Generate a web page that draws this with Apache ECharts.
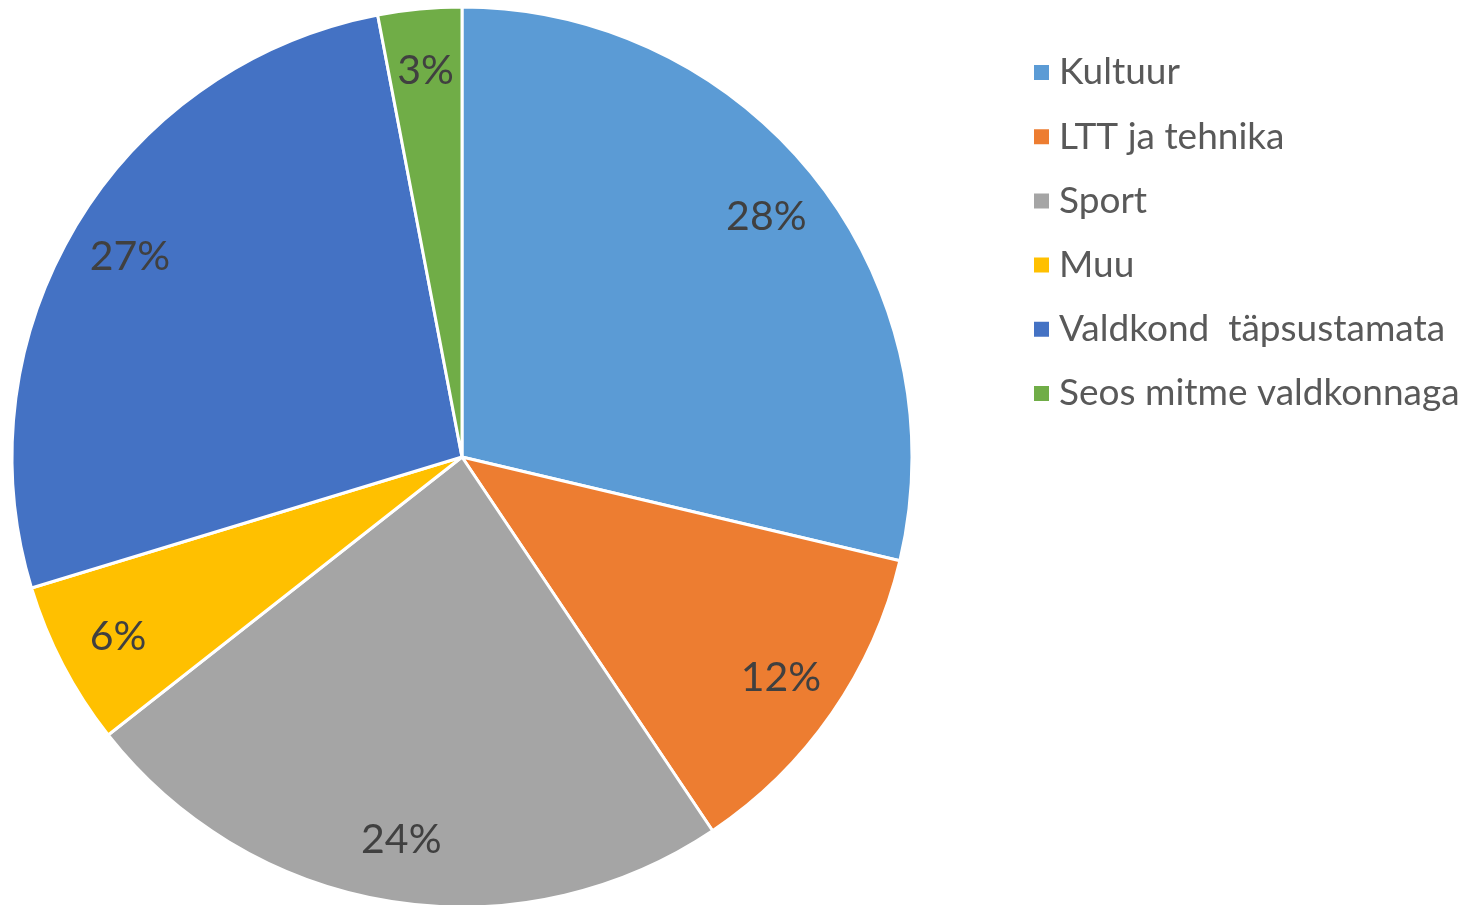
<!DOCTYPE html>
<html>
<head>
<meta charset="utf-8">
<script src="https://cdn.jsdelivr.net/npm/echarts@6/dist/echarts.min.js"></script>
<style>
  html, body { margin: 0; padding: 0; background: #fff; }
  #main { width: 1468px; height: 905px; }
</style>
</head>
<body>
<div id="main"></div>
<script>
// categories, slice shares and the printed percentages
var categories = ['Kultuur', 'LTT ja tehnika', 'Sport', 'Muu', 'Valdkond  täpsustamata', 'Seos mitme valdkonnaga'];
var shares = [28.7, 11.9, 23.8, 5.9, 26.7, 3.0];
var pctLabels = ['28%', '12%', '24%', '6%', '27%', '3%'];
var colors = ['#5B9BD5', '#ED7D31', '#A5A5A5', '#FFC000', '#4472C4', '#70AD47'];

var pieData = [];
var labelData = [];
for (var i = 0; i < categories.length; i++) {
  pieData.push({ name: categories[i], value: shares[i] });
  labelData.push({ name: categories[i], value: shares[i], label: { formatter: pctLabels[i] } });
}

var myChart = echarts.init(document.getElementById('main'));

var option = {
  animation: false,
  color: colors,
  legend: {
    orient: 'vertical',
    left: 1027,
    top: 49,
    icon: 'rect',
    itemWidth: 17,
    itemHeight: 17,
    itemGap: 27.2,
    data: categories,
    textStyle: {
      fontFamily: 'Lato',
      fontSize: 37,
      lineHeight: 36,
      color: '#595959',
      padding: [0, 0, 0, 4]
    }
  },
  series: [
    {
      // the slices
      type: 'pie',
      center: [462, 457],
      radius: [0, 450],
      startAngle: 90,
      silent: true,
      data: pieData,
      label: { show: false },
      labelLine: { show: false },
      itemStyle: { borderColor: '#ffffff', borderWidth: 3 }
    },
    {
      // invisible ring, just to put the labels near the rim
      type: 'pie',
      center: [462, 457],
      radius: [320, 450],
      startAngle: 90,
      silent: true,
      data: labelData,
      itemStyle: { color: 'rgba(0,0,0,0)' },
      label: {
        show: true,
        position: 'inside',
        fontFamily: 'Lato',
        fontSize: 41,
        color: '#404040'
      },
      labelLine: { show: false }
    }
  ]
};
myChart.setOption(option);
</script>
</body>
</html>
